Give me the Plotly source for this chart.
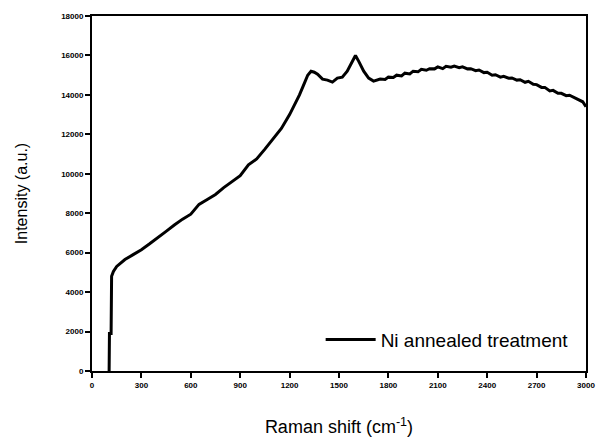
import plotly.graph_objects as go

raman_shift = [95, 104, 106, 116, 119, 130, 150, 175, 200, 250, 300, 350, 400, 450, 500,
               550, 600, 650, 700, 750, 800, 850, 900, 950, 1000, 1050, 1100, 1150, 1200,
               1230, 1260, 1290, 1310, 1330, 1350, 1370, 1400, 1430, 1460, 1490, 1520,
               1550, 1575, 1600, 1620, 1650, 1680, 1710, 1750, 1780, 1800, 1830, 1850, 1880,
               1900, 1930, 1950, 1980, 2000, 2030, 2050, 2080, 2100, 2130, 2150, 2180, 2200,
               2230, 2250, 2280, 2300, 2330, 2350, 2380, 2400, 2430, 2450, 2480, 2500, 2530,
               2550, 2580, 2600, 2630, 2650, 2680, 2700, 2730, 2750, 2780, 2800, 2830, 2850,
               2880, 2900, 2930, 2950, 2980, 3000]
intensity = [0, 0, 1900, 1900, 4800, 5050, 5300, 5480, 5650, 5900, 6150, 6450, 6750, 7080, 7400,
             7700, 7950, 8450, 8700, 8950, 9300, 9600, 9900, 10450, 10750, 11250, 11800, 12300, 13000,
             13500, 14000, 14600, 15000, 15200, 15150, 15050, 14800, 14750, 14650, 14850, 14900,
             15200, 15600, 16000, 15700, 15200, 14850, 14700, 14800, 14780, 14900, 14880, 15000, 14960,
             15100, 15060, 15200, 15170, 15300, 15250, 15330, 15320, 15420, 15330, 15450, 15400, 15460,
             15380, 15420, 15320, 15330, 15230, 15260, 15130, 15150, 15000, 15020, 14900, 14940, 14850,
             14860, 14750, 14770, 14640, 14690, 14540, 14520, 14380, 14380, 14200, 14230, 14080, 14080,
             13960, 13980, 13850, 13800, 13650, 13400]

x_ticks = [0, 300, 600, 900, 1200, 1500, 1800, 2100, 2400, 2700, 3000]
y_ticks = [0, 2000, 4000, 6000, 8000, 10000, 12000, 14000, 16000, 18000]

fig = go.Figure()
fig.add_trace(go.Scatter(x=raman_shift, y=intensity, mode="lines",
                         line=dict(color="black", width=3),
                         name="Ni annealed treatment"))

axis_common = dict(showline=True, linecolor="black", linewidth=2, mirror=True,
                   ticks="outside", ticklen=5, tickwidth=2, tickcolor="black",
                   showgrid=False, zeroline=False, automargin=False,
                   tickfont=dict(family="Liberation Sans", size=8, color="black", weight="bold"))

fig.update_xaxes(range=[0, 3000], tickvals=x_ticks, ticktext=[str(v) for v in x_ticks],
                 title=dict(text="Raman shift (cm<sup>-1</sup>)",
                            font=dict(family="Liberation Sans", size=18, color="black"),
                            standoff=32),
                 **axis_common)
fig.update_yaxes(range=[0, 18000], tickvals=y_ticks, ticktext=[str(v) for v in y_ticks],
                 title=dict(text="Intensity (a.u.)",
                            font=dict(family="Liberation Sans", size=16, color="black"),
                            standoff=30),
                 **axis_common)

fig.update_layout(
    width=602, height=441,
    margin=dict(l=92, r=16, t=16, b=70),
    plot_bgcolor="white", paper_bgcolor="white",
    showlegend=True,
    legend=dict(x=0.975, y=0.035, xanchor="right", yanchor="bottom",
                bgcolor="rgba(0,0,0,0)", itemwidth=50,
                font=dict(family="Liberation Sans", size=19, color="black")),
)

fig.write_html("out.html")
